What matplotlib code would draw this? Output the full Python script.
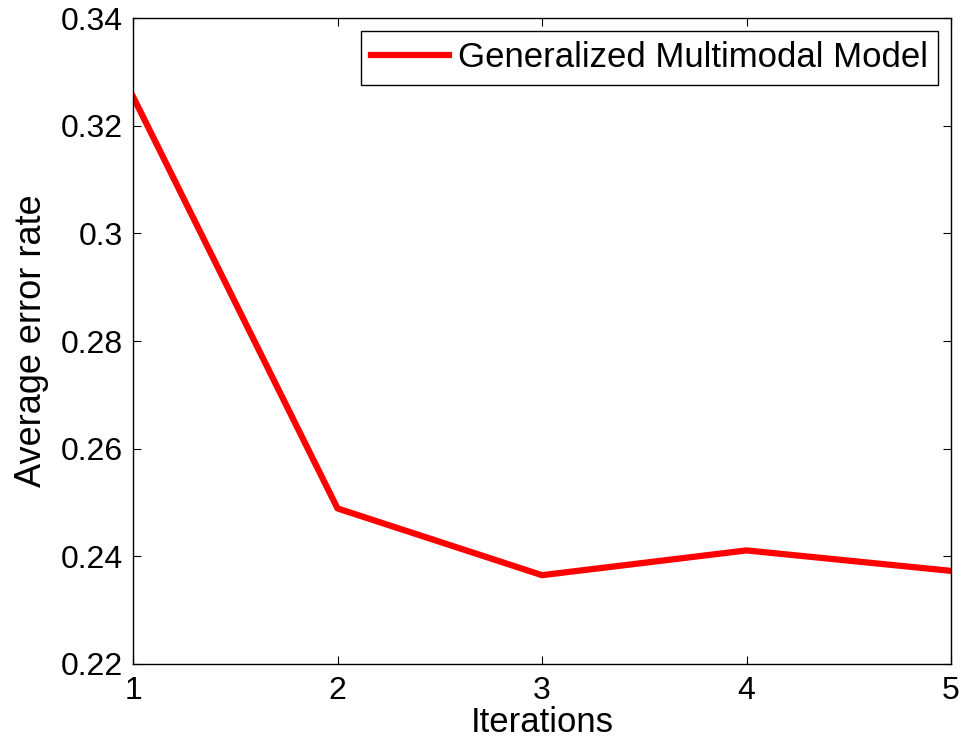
import numpy as np
import matplotlib.pyplot as plt

plt.rcParams['font.family'] = ['Liberation Sans', 'DejaVu Sans']

iterations = [1, 2, 3, 4, 5]
error_rate = [0.3254, 0.2489, 0.2365, 0.2411, 0.2373]
yticks = [0.22, 0.24, 0.26, 0.28, 0.3, 0.32, 0.34]
ytick_labels = ['0.22', '0.24', '0.26', '0.28', '0.3', '0.32', '0.34']

fig = plt.figure(figsize=(9.66, 7.48), dpi=100)
ax = fig.add_axes([0.1377, 0.1123, 0.8468, 0.8636])

ax.plot(iterations, error_rate, color='#ff0000', linewidth=4.5,
        label='Generalized Multimodal Model')

ax.set_xlim(1, 5)
ax.set_ylim(0.22, 0.34)
ax.set_xticks(iterations)
ax.set_yticks(yticks)
ax.set_yticklabels(ytick_labels)
ax.tick_params(direction='in', length=6, width=0.8, labelsize=23,
               top=True, right=True)
ax.tick_params(axis='x', pad=9)
ax.tick_params(axis='y', pad=7)
for s in ax.spines.values():
    s.set_linewidth(1.0)

ax.set_xlabel('Iterations', fontsize=25, labelpad=0)
ax.set_ylabel('Average error rate', fontsize=26, labelpad=9)

leg = ax.legend(loc='upper right', fontsize=25, fancybox=False,
                edgecolor='black', framealpha=1, borderaxespad=0.37,
                handlelength=2.25, handletextpad=0.25, borderpad=0.3)
leg.get_frame().set_linewidth(1.0)

fig.savefig('out.png', dpi=100)
